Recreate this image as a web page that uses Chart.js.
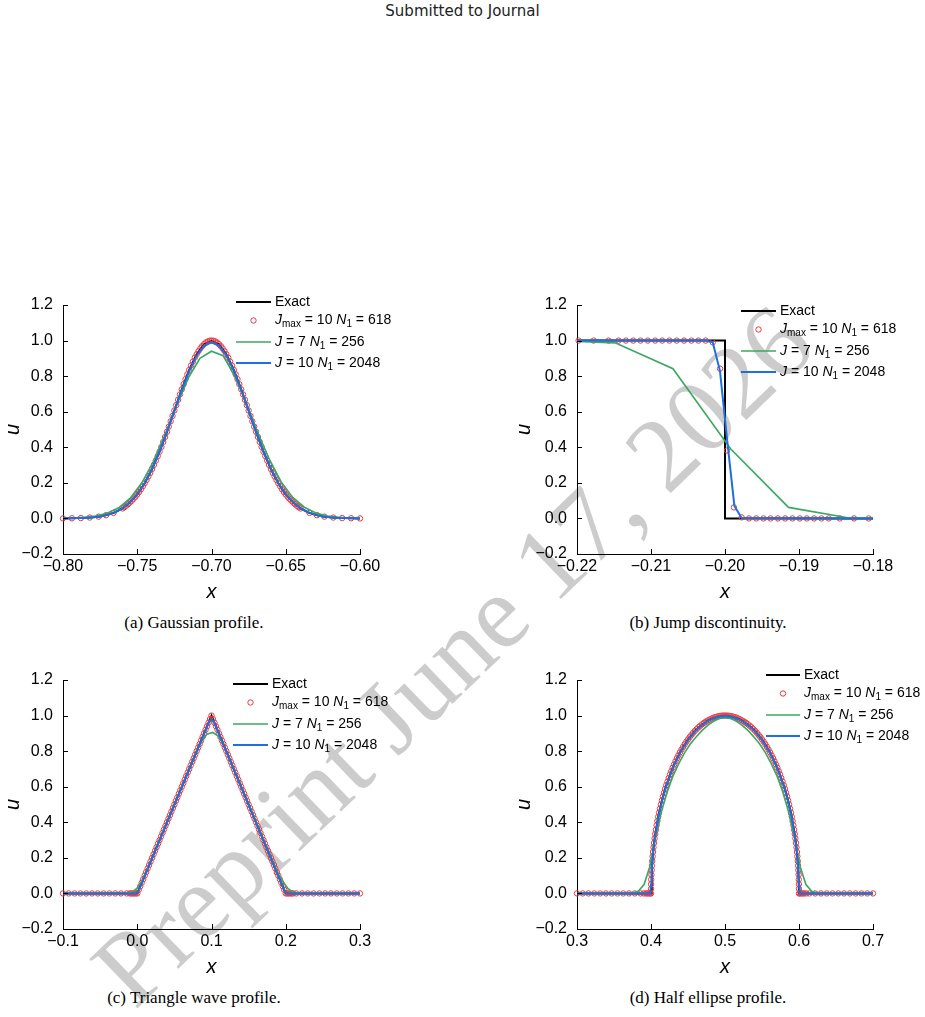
<!DOCTYPE html>
<html>
<head>
<meta charset="utf-8">
<script src="https://cdn.jsdelivr.net/npm/chart.js@4.4.1/dist/chart.umd.min.js"></script>
<style>
  html, body { margin: 0; padding: 0; background: #fff; }
  #page { position: relative; width: 925px; height: 1017px; overflow: hidden; }
  .panel { position: absolute; z-index: 1; }
  .caption { position: absolute; transform: translate(-50%, -50%); font: 17px "Liberation Serif", serif; white-space: nowrap; z-index: 1; }
  #header { position: absolute; left: 0; top: 2px; width: 925px; text-align: center; font: 15px "DejaVu Sans", sans-serif; line-height: 18px; color: #222; }
  #watermark { position: absolute; left: 452px; top: 655px; transform: translate(-50%, -50%) rotate(-44deg);
    font: 105px "Liberation Serif", serif; line-height: 1; color: #cccccc; white-space: nowrap; z-index: 0; }
</style>
</head>
<body>
<div id="page">
  <div id="header">Submitted to Journal</div>
  <div id="watermark">Preprint June 17, 2026</div>

  <div class="panel" style="left:0px; top:280px"><canvas id="chartA" width="420" height="325"></canvas></div>
  <div class="panel" style="left:500px; top:280px"><canvas id="chartB" width="425" height="325"></canvas></div>
  <div class="panel" style="left:0px; top:655px"><canvas id="chartC" width="420" height="325"></canvas></div>
  <div class="panel" style="left:500px; top:655px"><canvas id="chartD" width="425" height="325"></canvas></div>

  <div class="caption" style="left:194px; top:623px">(a) Gaussian profile.</div>
  <div class="caption" style="left:708px; top:623px">(b) Jump discontinuity.</div>
  <div class="caption" style="left:194px; top:998px">(c) Triangle wave profile.</div>
  <div class="caption" style="left:708px; top:998px">(d) Half ellipse profile.</div>
</div>

<script>
// ---- axis ticks ----
const yTicks = [-0.2, 0.0, 0.2, 0.4, 0.6, 0.8, 1.0, 1.2];
const gaussTicks = [-0.80, -0.75, -0.70, -0.65, -0.60];
const jumpTicks = [-0.22, -0.21, -0.20, -0.19, -0.18];
const triTicks = [-0.1, 0.0, 0.1, 0.2, 0.3];
const ellTicks = [0.3, 0.4, 0.5, 0.6, 0.7];

// ---- (a) Gaussian ----
const gaussX = [-0.800, -0.795, -0.790, -0.785, -0.780, -0.775, -0.770, -0.765, -0.760, -0.755, -0.750, -0.745, -0.740, -0.735, -0.730, -0.725, -0.720, -0.715, -0.710, -0.705, -0.700,
  -0.695, -0.690, -0.685, -0.680, -0.675, -0.670, -0.665, -0.660, -0.655, -0.650, -0.645, -0.640, -0.635, -0.630, -0.625, -0.620, -0.615, -0.610, -0.605, -0.600];
const gaussExact = [0.000, 0.001, 0.002, 0.003, 0.006, 0.011, 0.020, 0.034, 0.056, 0.089, 0.135, 0.198, 0.278, 0.375, 0.487, 0.607, 0.726, 0.835, 0.923, 0.980, 1.000,
  0.980, 0.923, 0.835, 0.726, 0.607, 0.487, 0.375, 0.278, 0.198, 0.135, 0.089, 0.056, 0.034, 0.020, 0.011, 0.006, 0.003, 0.002, 0.001, 0.000];
const gaussFine = [0.000, 0.001, 0.002, 0.003, 0.006, 0.011, 0.020, 0.035, 0.057, 0.090, 0.136, 0.199, 0.279, 0.376, 0.487, 0.605, 0.722, 0.829, 0.915, 0.970, 0.990,
  0.972, 0.917, 0.831, 0.724, 0.606, 0.487, 0.376, 0.279, 0.199, 0.136, 0.090, 0.057, 0.035, 0.020, 0.011, 0.006, 0.003, 0.002, 0.001, 0.000];
const gaussCoarseX = [-0.8016, -0.7938, -0.7859, -0.7781, -0.7703, -0.7625, -0.7547, -0.7469, -0.7391, -0.7313, -0.7234, -0.7156, -0.7078, -0.7000,
  -0.6922, -0.6844, -0.6766, -0.6688, -0.6609, -0.6531, -0.6453, -0.6375, -0.6297, -0.6219, -0.6141, -0.6063, -0.5984];
const gaussCoarse = [0.001, 0.0025, 0.006, 0.013, 0.029, 0.060, 0.114, 0.200, 0.320, 0.470, 0.640, 0.790, 0.900, 0.940,
  0.915, 0.800, 0.650, 0.480, 0.330, 0.205, 0.118, 0.063, 0.031, 0.014, 0.0065, 0.0027, 0.001];
const gaussAdaptX = [-0.800, -0.794, -0.788, -0.782, -0.776, -0.771, -0.766,
  -0.76000, -0.75875, -0.75750, -0.75625, -0.75500, -0.75375, -0.75250, -0.75125, -0.75000, -0.74875, -0.74750, -0.74625,
  -0.74500, -0.74375, -0.74250, -0.74125, -0.74000, -0.73875, -0.73750, -0.73625, -0.73500, -0.73375, -0.73250, -0.73125,
  -0.73000, -0.72875, -0.72750, -0.72625, -0.72500, -0.72375, -0.72250, -0.72125, -0.72000, -0.71875, -0.71750, -0.71625,
  -0.71500, -0.71375, -0.71250, -0.71125, -0.71000, -0.70875, -0.70750, -0.70625, -0.70500, -0.70375, -0.70250, -0.70125, -0.70000,
  -0.69875, -0.69750, -0.69625, -0.69500, -0.69375, -0.69250, -0.69125, -0.69000, -0.68875, -0.68750, -0.68625, -0.68500,
  -0.68375, -0.68250, -0.68125, -0.68000, -0.67875, -0.67750, -0.67625, -0.67500, -0.67375, -0.67250, -0.67125, -0.67000,
  -0.66875, -0.66750, -0.66625, -0.66500, -0.66375, -0.66250, -0.66125, -0.66000, -0.65875, -0.65750, -0.65625, -0.65500,
  -0.65375, -0.65250, -0.65125, -0.65000, -0.64875, -0.64750, -0.64625, -0.64500, -0.64375, -0.64250, -0.64125, -0.64000,
  -0.634, -0.629, -0.624, -0.618, -0.612, -0.606, -0.600];
const gaussAdapt = [0.000, 0.001, 0.002, 0.005, 0.010, 0.018, 0.031,
  0.056, 0.063, 0.071, 0.080, 0.089, 0.099, 0.110, 0.122, 0.135, 0.149, 0.164, 0.181,
  0.198, 0.216, 0.236, 0.256, 0.278, 0.301, 0.325, 0.350, 0.375, 0.402, 0.430, 0.458,
  0.487, 0.516, 0.546, 0.576, 0.607, 0.637, 0.667, 0.697, 0.726, 0.755, 0.783, 0.810,
  0.835, 0.860, 0.882, 0.904, 0.923, 0.941, 0.956, 0.969, 0.980, 0.989, 0.995, 0.999, 1.000,
  0.999, 0.995, 0.989, 0.980, 0.969, 0.956, 0.941, 0.923, 0.904, 0.882, 0.860, 0.835,
  0.810, 0.783, 0.755, 0.726, 0.697, 0.667, 0.637, 0.607, 0.576, 0.546, 0.516, 0.487,
  0.458, 0.430, 0.402, 0.375, 0.350, 0.325, 0.301, 0.278, 0.256, 0.236, 0.216, 0.198,
  0.181, 0.164, 0.149, 0.135, 0.122, 0.110, 0.099, 0.089, 0.080, 0.071, 0.063, 0.056,
  0.031, 0.018, 0.010, 0.005, 0.002, 0.001, 0.000];

// ---- (b) Jump ----
const jumpExactX = [-0.22, -0.20, -0.20, -0.18];
const jumpExact = [1, 1, 0, 0];
const jumpFineX = [-0.2200, -0.20264, -0.20166, -0.20068, -0.19971, -0.19873, -0.19775, -0.1800];
const jumpFine = [1.0, 1.0, 0.99, 0.83, 0.44, 0.07, 0.003, 0.0];
const jumpCoarseX = [-0.22266, -0.21484, -0.20703, -0.19922, -0.19141, -0.18359, -0.17578];
const jumpCoarse = [1.0, 0.987, 0.842, 0.39, 0.062, 0.005, 0.0];
const jumpAdaptX = [-0.21978, -0.21775, -0.21573, -0.21438, -0.21339, -0.21240, -0.21142, -0.21043, -0.20944, -0.20849, -0.20751, -0.20652,
  -0.20553, -0.20454, -0.20360, -0.20261, -0.20166, -0.20067, -0.19973, -0.19879, -0.19775, -0.19676, -0.19578, -0.19479,
  -0.19384, -0.19285, -0.19187, -0.19088, -0.18989, -0.18894, -0.18796, -0.18697, -0.18598, -0.18449, -0.18256, -0.18058];
const jumpAdapt = [1.0, 1.0, 1.0, 1.0, 1.0, 1.0, 1.0, 1.0, 1.0, 1.0, 1.0, 1.0,
  1.0, 1.0, 1.0, 1.0, 0.99, 0.842, 0.382, 0.062, 0.006, 0.0, 0.0, 0.0,
  0.0, 0.0, 0.0, 0.0, 0.0, 0.0, 0.0, 0.0, 0.0, 0.0, 0.0, 0.0];

// ---- (c) Triangle ----
const triExactX = [-0.1, 0.0, 0.1, 0.2, 0.3];
const triExact = [0, 0, 1, 0, 0];
const triFineX = [-0.1, -0.002, 0.0, 0.002, 0.004, 0.096, 0.098, 0.100, 0.102, 0.104, 0.196, 0.198, 0.200, 0.202, 0.3];
const triFine = [0, 0, 0.003, 0.017, 0.037, 0.957, 0.972, 0.978, 0.972, 0.957, 0.037, 0.017, 0.003, 0, 0];
const triCoarseX = [-0.1, -0.0156, -0.0078, 0.0, 0.0078, 0.0156, 0.0781, 0.0859, 0.0938, 0.1016, 0.1094, 0.1172, 0.1250, 0.1875, 0.1953, 0.2031, 0.2109, 0.2188, 0.3];
const triCoarse = [0, 0.001, 0.006, 0.03, 0.082, 0.157, 0.78, 0.85, 0.895, 0.905, 0.885, 0.825, 0.75, 0.13, 0.072, 0.027, 0.006, 0.001, 0];
const triAdaptX = [-0.1000, -0.0922, -0.0844, -0.0766, -0.0688, -0.0609, -0.0531, -0.0453, -0.0375, -0.0297, -0.0219, -0.0141,
  -0.010, -0.008, -0.006, -0.004, -0.002, 0.000, 0.002, 0.004, 0.006, 0.008, 0.010,
  0.012, 0.014, 0.016, 0.018, 0.020, 0.022, 0.024, 0.026, 0.028, 0.030, 0.032, 0.034, 0.036, 0.038, 0.040, 0.042, 0.044, 0.046, 0.048, 0.050,
  0.052, 0.054, 0.056, 0.058, 0.060, 0.062, 0.064, 0.066, 0.068, 0.070, 0.072, 0.074, 0.076, 0.078, 0.080, 0.082, 0.084, 0.086, 0.088,
  0.090, 0.092, 0.094, 0.096, 0.098, 0.100, 0.102, 0.104, 0.106, 0.108, 0.110,
  0.112, 0.114, 0.116, 0.118, 0.120, 0.122, 0.124, 0.126, 0.128, 0.130, 0.132, 0.134, 0.136, 0.138, 0.140, 0.142, 0.144, 0.146, 0.148, 0.150,
  0.152, 0.154, 0.156, 0.158, 0.160, 0.162, 0.164, 0.166, 0.168, 0.170, 0.172, 0.174, 0.176, 0.178, 0.180, 0.182, 0.184, 0.186, 0.188,
  0.190, 0.192, 0.194, 0.196, 0.198, 0.200, 0.202, 0.204, 0.206, 0.208, 0.210,
  0.2141, 0.2219, 0.2297, 0.2375, 0.2453, 0.2531, 0.2609, 0.2688, 0.2766, 0.2844, 0.2922, 0.3000];
const triAdapt = [0, 0, 0, 0, 0, 0, 0, 0, 0, 0, 0, 0,
  0, 0, 0, 0, 0, 0, 0.02, 0.04, 0.06, 0.08, 0.10,
  0.12, 0.14, 0.16, 0.18, 0.20, 0.22, 0.24, 0.26, 0.28, 0.30, 0.32, 0.34, 0.36, 0.38, 0.40, 0.42, 0.44, 0.46, 0.48, 0.50,
  0.52, 0.54, 0.56, 0.58, 0.60, 0.62, 0.64, 0.66, 0.68, 0.70, 0.72, 0.74, 0.76, 0.78, 0.80, 0.82, 0.84, 0.86, 0.88,
  0.90, 0.92, 0.94, 0.96, 0.98, 1.00, 0.98, 0.96, 0.94, 0.92, 0.90,
  0.88, 0.86, 0.84, 0.82, 0.80, 0.78, 0.76, 0.74, 0.72, 0.70, 0.68, 0.66, 0.64, 0.62, 0.60, 0.58, 0.56, 0.54, 0.52, 0.50,
  0.48, 0.46, 0.44, 0.42, 0.40, 0.38, 0.36, 0.34, 0.32, 0.30, 0.28, 0.26, 0.24, 0.22, 0.20, 0.18, 0.16, 0.14, 0.12,
  0.10, 0.08, 0.06, 0.04, 0.02, 0, 0, 0, 0, 0, 0,
  0, 0, 0, 0, 0, 0, 0, 0, 0, 0, 0, 0];

// ---- (d) Half ellipse ----
const ellExactX = [0.3, 0.4, 0.401, 0.403, 0.405, 0.41, 0.415, 0.42, 0.43, 0.44, 0.45, 0.46, 0.47, 0.48, 0.49, 0.5,
  0.51, 0.52, 0.53, 0.54, 0.55, 0.56, 0.57, 0.58, 0.585, 0.59, 0.595, 0.597, 0.599, 0.6, 0.7];
const ellExact = [0, 0, 0.141, 0.243, 0.312, 0.436, 0.527, 0.6, 0.714, 0.8, 0.866, 0.917, 0.954, 0.98, 0.995, 1,
  0.995, 0.98, 0.954, 0.917, 0.866, 0.8, 0.714, 0.6, 0.527, 0.436, 0.312, 0.243, 0.141, 0, 0];
const ellFineX = [0.3, 0.399, 0.400, 0.401, 0.403, 0.405, 0.41, 0.415, 0.42, 0.43, 0.44, 0.45, 0.46, 0.47, 0.48, 0.49, 0.5,
  0.51, 0.52, 0.53, 0.54, 0.55, 0.56, 0.57, 0.58, 0.585, 0.59, 0.595, 0.597, 0.599, 0.600, 0.601, 0.7];
const ellFine = [0, 0, 0.05, 0.13, 0.235, 0.305, 0.43, 0.522, 0.596, 0.711, 0.797, 0.863, 0.914, 0.951, 0.977, 0.992, 0.997,
  0.992, 0.977, 0.951, 0.914, 0.863, 0.797, 0.711, 0.596, 0.522, 0.43, 0.305, 0.235, 0.13, 0.05, 0, 0];
const ellCoarseX = [0.3, 0.3672, 0.375, 0.3828, 0.3906, 0.3984, 0.4063, 0.4141, 0.4219, 0.4297, 0.4375, 0.4453, 0.4531, 0.4609, 0.4688, 0.4766, 0.4844, 0.4922, 0.5,
  0.5078, 0.5156, 0.5234, 0.5313, 0.5391, 0.5469, 0.5547, 0.5625, 0.5703, 0.5781, 0.5859, 0.5938, 0.6016, 0.6094, 0.6172, 0.625, 0.6328, 0.7];
const ellCoarse = [0, 0, 0.002, 0.012, 0.05, 0.15, 0.32, 0.46, 0.57, 0.66, 0.73, 0.79, 0.84, 0.88, 0.915, 0.945, 0.968, 0.984, 0.99,
  0.984, 0.968, 0.945, 0.915, 0.88, 0.84, 0.79, 0.73, 0.66, 0.57, 0.46, 0.32, 0.15, 0.05, 0.012, 0.002, 0, 0];
const ellAdaptX = [0.3000, 0.3078, 0.3156, 0.3234, 0.3313, 0.3391, 0.3469, 0.3547, 0.3625, 0.3703, 0.3781, 0.3859,
  0.3900, 0.3930, 0.3950, 0.3970, 0.3990,
  0.40000, 0.40003, 0.40014, 0.40031, 0.40055, 0.40086, 0.40123, 0.40168, 0.40219, 0.40276, 0.40341, 0.40412, 0.40489, 0.40574,
  0.40664, 0.40761, 0.40865, 0.40974, 0.41090, 0.41212, 0.41340, 0.41474, 0.41613, 0.41759, 0.41910, 0.42066, 0.42229, 0.42396,
  0.42569, 0.42746, 0.42929, 0.43116, 0.43309, 0.43505, 0.43707, 0.43912, 0.44122, 0.44336, 0.44554, 0.44775, 0.45000, 0.45228,
  0.45460, 0.45695, 0.45933, 0.46173, 0.46416, 0.46662, 0.46910, 0.47160, 0.47412, 0.47666, 0.47921, 0.48178, 0.48436, 0.48695,
  0.48955, 0.49215, 0.49477, 0.49738, 0.50000,
  0.50262, 0.50523, 0.50785, 0.51045, 0.51305, 0.51564, 0.51822, 0.52079, 0.52334, 0.52588, 0.52840, 0.53090, 0.53338, 0.53584,
  0.53827, 0.54067, 0.54305, 0.54540, 0.54772, 0.55000, 0.55225, 0.55446, 0.55664, 0.55878, 0.56088, 0.56293, 0.56495, 0.56691,
  0.56884, 0.57071, 0.57254, 0.57431, 0.57604, 0.57771, 0.57934, 0.58090, 0.58241, 0.58387, 0.58526, 0.58660, 0.58788, 0.58910,
  0.59026, 0.59135, 0.59239, 0.59336, 0.59426, 0.59511, 0.59588, 0.59659, 0.59724, 0.59781, 0.59832, 0.59877, 0.59914, 0.59945,
  0.59969, 0.59986, 0.59997, 0.60000,
  0.6010, 0.6030, 0.6050, 0.6070, 0.6100,
  0.6141, 0.6219, 0.6297, 0.6375, 0.6453, 0.6531, 0.6609, 0.6688, 0.6766, 0.6844, 0.6922, 0.7000];
const ellAdapt = [0, 0, 0, 0, 0, 0, 0, 0, 0, 0, 0, 0,
  0, 0, 0, 0, 0,
  0.000, 0.026, 0.052, 0.078, 0.105, 0.131, 0.156, 0.182, 0.208, 0.233, 0.259, 0.284, 0.309, 0.334,
  0.358, 0.383, 0.407, 0.431, 0.454, 0.477, 0.500, 0.523, 0.545, 0.566, 0.588, 0.609, 0.629, 0.649,
  0.669, 0.688, 0.707, 0.725, 0.743, 0.760, 0.777, 0.793, 0.809, 0.824, 0.839, 0.853, 0.866, 0.879,
  0.891, 0.903, 0.914, 0.924, 0.934, 0.943, 0.951, 0.959, 0.966, 0.972, 0.978, 0.983, 0.988, 0.991,
  0.995, 0.997, 0.999, 1.000, 1.000,
  1.000, 0.999, 0.997, 0.995, 0.991, 0.988, 0.983, 0.978, 0.972, 0.966, 0.959, 0.951, 0.943, 0.934,
  0.924, 0.914, 0.903, 0.891, 0.879, 0.866, 0.853, 0.839, 0.824, 0.809, 0.793, 0.777, 0.760, 0.743,
  0.725, 0.707, 0.688, 0.669, 0.649, 0.629, 0.609, 0.588, 0.566, 0.545, 0.523, 0.500, 0.477, 0.454,
  0.431, 0.407, 0.383, 0.358, 0.334, 0.309, 0.284, 0.259, 0.233, 0.208, 0.182, 0.156, 0.131, 0.105,
  0.078, 0.052, 0.026, 0.000,
  0, 0, 0, 0, 0,
  0, 0, 0, 0, 0, 0, 0, 0, 0, 0, 0, 0];

const legendLabels = [
  [['Exact', 'n']],
  [['J', 'i'], ['max', 's'], [' = 10 ', 'n'], ['N', 'i'], ['1', 's'], [' = 618', 'n']],
  [['J', 'i'], [' = 7 ', 'n'], ['N', 'i'], ['1', 's'], [' = 256', 'n']],
  [['J', 'i'], [' = 10 ', 'n'], ['N', 'i'], ['1', 's'], [' = 2048', 'n']]
];

const RED = '#e8393f';
const GREEN = '#3aa860';
const BLUE = '#1e6fe0';
const FONT = '"Liberation Sans", Arial, sans-serif';

Chart.defaults.font.family = FONT;
Chart.defaults.color = '#000';

const pts = (xs, ys) => xs.map((x, i) => ({ x: x, y: ys[i] }));
const fmt = (v, d) => v.toFixed(d).replace('-', '\u2212');

// ticks pointing into the plot, like the original figure
const innerTicks = {
  id: 'innerTicks',
  afterDraw(chart) {
    const { ctx, chartArea: a } = chart;
    const x = chart.scales.x, y = chart.scales.y;
    ctx.save();
    ctx.strokeStyle = '#000';
    ctx.lineWidth = 1;
    ctx.beginPath();
    x.ticks.forEach(t => {
      const px = Math.round(x.getPixelForValue(t.value)) + 0.5;
      ctx.moveTo(px, a.bottom);
      ctx.lineTo(px, a.bottom - 5);
    });
    y.ticks.forEach(t => {
      const py = Math.round(y.getPixelForValue(t.value)) + 0.5;
      ctx.moveTo(a.left, py);
      ctx.lineTo(a.left + 5, py);
    });
    ctx.stroke();
    ctx.restore();
  }
};

function drawRich(ctx, parts, x, y) {
  parts.forEach(([text, kind]) => {
    const sub = kind === 's';
    ctx.font = (kind === 'i' ? 'italic ' : '') + (sub ? 10 : 14) + 'px ' + FONT;
    ctx.fillText(text, x, sub ? y + 4 : y);
    x += ctx.measureText(text).width;
  });
}

// legend with italic symbols and subscripts
const richLegend = {
  id: 'richLegend',
  afterDraw(chart, args, opts) {
    const ctx = chart.ctx;
    const rowOffsets = [0, 18.5, 40, 61];
    ctx.save();
    ctx.textBaseline = 'middle';
    ctx.fillStyle = '#000';
    chart.data.datasets.forEach((ds, i) => {
      const y = opts.y + rowOffsets[i];
      if (ds.showLine === false) {
        ctx.beginPath();
        ctx.arc(opts.x + opts.len / 2, y, ds.pointRadius, 0, Math.PI * 2);
        ctx.strokeStyle = ds.pointBorderColor;
        ctx.lineWidth = 1;
        ctx.stroke();
      } else {
        ctx.beginPath();
        ctx.moveTo(opts.x, y);
        ctx.lineTo(opts.x + opts.len, y);
        ctx.strokeStyle = ds.borderColor;
        ctx.lineWidth = ds.borderWidth;
        ctx.stroke();
      }
      drawRich(ctx, legendLabels[i], opts.x + opts.len + 4, y);
    });
    ctx.restore();
  }
};

const panels = [
  { id: 'chartA', xMin: -0.80, xMax: -0.60, xTicks: gaussTicks, digits: 2,
    exact: pts(gaussX, gaussExact), adapt: pts(gaussAdaptX, gaussAdapt), coarse: pts(gaussCoarseX, gaussCoarse), fine: pts(gaussX, gaussFine),
    pad: { left: 1, top: 25, right: 60, bottom: 1 }, yW: 62, xH: 50, legend: { x: 236, y: 22, len: 35 } },
  { id: 'chartB', xMin: -0.22, xMax: -0.18, xTicks: jumpTicks, digits: 2,
    exact: pts(jumpExactX, jumpExact), adapt: pts(jumpAdaptX, jumpAdapt), coarse: pts(jumpCoarseX, jumpCoarse), fine: pts(jumpFineX, jumpFine),
    pad: { left: 12, top: 25, right: 52, bottom: 1 }, yW: 65, xH: 50, legend: { x: 241, y: 31, len: 35 } },
  { id: 'chartC', xMin: -0.1, xMax: 0.3, xTicks: triTicks, digits: 1,
    exact: pts(triExactX, triExact), adapt: pts(triAdaptX, triAdapt), coarse: pts(triCoarseX, triCoarse), fine: pts(triFineX, triFine),
    pad: { left: 1, top: 25, right: 60, bottom: 1 }, yW: 62, xH: 50, legend: { x: 233, y: 29, len: 35 } },
  { id: 'chartD', xMin: 0.3, xMax: 0.7, xTicks: ellTicks, digits: 1,
    exact: pts(ellExactX, ellExact), adapt: pts(ellAdaptX, ellAdapt), coarse: pts(ellCoarseX, ellCoarse), fine: pts(ellFineX, ellFine),
    pad: { left: 12, top: 25, right: 52, bottom: 1 }, yW: 65, xH: 50, legend: { x: 266, y: 20, len: 34 } }
];

panels.forEach(p => {
  new Chart(document.getElementById(p.id), {
    type: 'line',
    data: {
      datasets: [
        { label: 'Exact', data: p.exact, borderColor: '#000', borderWidth: 2, pointRadius: 0, order: 4 },
        { label: 'Jmax = 10 N1 = 618', data: p.adapt, showLine: false, pointRadius: 2.7, pointBorderWidth: 1,
          pointBorderColor: RED, pointBackgroundColor: 'rgba(0,0,0,0)', borderColor: RED, order: 3, clip: 4 },
        { label: 'J = 7 N1 = 256', data: p.coarse, borderColor: GREEN, borderWidth: 1.6, pointRadius: 0, order: 2 },
        { label: 'J = 10 N1 = 2048', data: p.fine, borderColor: BLUE, borderWidth: 2, pointRadius: 0, order: 1 }
      ]
    },
    options: {
      responsive: false,
      animation: false,
      events: [],
      layout: { padding: p.pad },
      plugins: {
        legend: { display: false },
        tooltip: { enabled: false },
        richLegend: p.legend
      },
      scales: {
        x: {
          type: 'linear', min: p.xMin, max: p.xMax,
          afterBuildTicks: s => { s.ticks = p.xTicks.map(v => ({ value: v })); },
          afterFit: s => { s.height = p.xH; },
          grid: { display: false, drawTicks: false },
          border: { display: true, color: '#000', width: 1 },
          ticks: { font: { size: 16 }, color: '#000', padding: 3, maxRotation: 0, autoSkip: false, callback: v => fmt(v, p.digits) },
          title: { display: true, text: 'x', font: { size: 20, style: 'italic' }, padding: 0, color: '#000' }
        },
        y: {
          type: 'linear', min: -0.2, max: 1.2,
          afterBuildTicks: s => { s.ticks = yTicks.map(v => ({ value: v })); },
          afterFit: s => { s.width = p.yW; },
          grid: { display: false, drawTicks: false },
          border: { display: true, color: '#000', width: 1 },
          ticks: { font: { size: 16 }, color: '#000', padding: 10, autoSkip: false, callback: v => fmt(v, 1) },
          title: { display: true, text: 'u', font: { size: 20, style: 'italic' }, padding: 0, color: '#000' }
        }
      }
    },
    plugins: [innerTicks, richLegend]
  });
});
</script>
</body>
</html>
